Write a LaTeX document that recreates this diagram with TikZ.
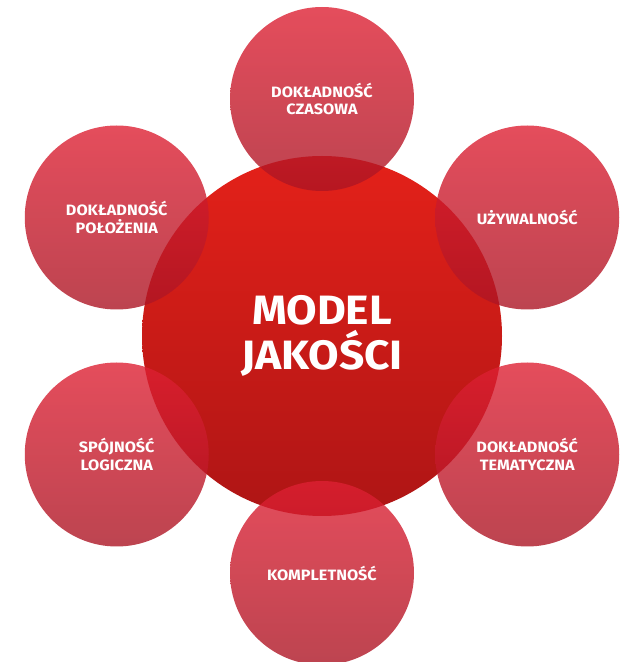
\documentclass[tikz,border=0pt]{standalone}
\usepackage{fontspec}
\setmainfont{Fira Sans}[FakeStretch=1.08]
\definecolor{bigtop}{HTML}{E42119}
\definecolor{bigbot}{HTML}{AE1515}
\definecolor{balltop}{HTML}{DE2033}
\definecolor{ballbot}{HTML}{AC1524}
\tikzset{
  bigball/.style={circle, minimum size=360pt, inner sep=0pt, top color=bigtop, bottom color=bigbot,
    text=white, align=center, font=\bfseries\fontsize{41}{45}\selectfont},
  ball/.style={circle, minimum size=184pt, inner sep=0pt, top color=balltop, bottom color=ballbot,
    fill opacity=0.8, text opacity=1, text=white, align=center, font=\bfseries\fontsize{15}{17.5}\selectfont}
}

\begin{document}
\begin{tikzpicture}[x=1pt,y=1pt]
				%%%%% START %%%%%
				\def\ring{237}
				\useasboundingbox (0,0) rectangle (620,662);
				
				\node[bigball] (model) at (322,326) {MODEL\\JAKOŚCI};
				
				\node[ball] (czasowa) at ([shift={(90:\ring)}]model.center) {DOKŁADNOŚĆ\\CZASOWA};
				\node[ball] (uzyw) at ([shift={(30:\ring)}]model.center) {UŻYWALNOŚĆ};
				\node[ball] (tema) at ([shift={(-30:\ring)}]model.center) {DOKŁADNOŚĆ\\TEMATYCZNA};
				\node[ball] (kompl) at ([shift={(-90:\ring)}]model.center) {KOMPLETNOŚĆ};
				\node[ball] (spojn) at ([shift={(-150:\ring)}]model.center) {SPÓJNOŚĆ\\LOGICZNA};
				\node[ball] (polo) at ([shift={(150:\ring)}]model.center) {DOKŁADNOŚĆ\\POŁOŻENIA};
				%%%%% END %%%%%
\end{tikzpicture}
\end{document}
